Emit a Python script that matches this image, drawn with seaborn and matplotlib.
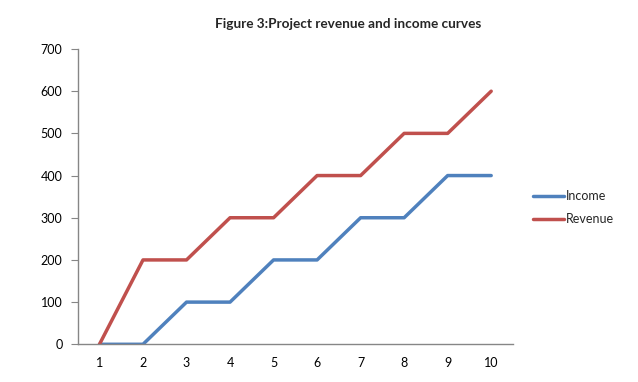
import matplotlib
matplotlib.use("Agg")
import matplotlib.pyplot as plt
import seaborn as sns
import pandas as pd
import numpy as np

categories = [1, 2, 3, 4, 5, 6, 7, 8, 9, 10]
income = [0, 0, 100, 100, 200, 200, 300, 300, 400, 400]
revenue = [0, 200, 200, 300, 300, 400, 400, 500, 500, 600]
y_ticks = [0, 100, 200, 300, 400, 500, 600, 700]
title = "Figure 3:Project revenue and income curves"

sns.set_style("white")
plt.rcParams['font.family'] = ['Lato', 'DejaVu Sans']

df = pd.DataFrame({
    "x": categories * 2,
    "value": income + revenue,
    "series": ["Income"] * len(income) + ["Revenue"] * len(revenue),
})

fig = plt.figure(figsize=(6.38, 3.82), dpi=100)
ax = fig.add_axes([0.1218, 0.0987, 0.804 - 0.1218, 0.8717 - 0.0987])
sns.lineplot(data=df, x="x", y="value", hue="series",
             palette={"Income": "#4F81BD", "Revenue": "#C0504D"},
             linewidth=2.5, ax=ax, legend=True)

ax.set_xlim(0.5, 10.5)
ax.set_ylim(0, 700)
ax.set_xticks(categories)
ax.set_xticklabels([str(c) for c in categories])
ax.set_xticks(np.arange(0.5, 11, 1.0), minor=True)
ax.set_yticks(y_ticks)
ax.set_yticklabels([str(v) for v in y_ticks])
ax.set_xlabel("")
ax.set_ylabel("")

for s in ["top", "right"]:
    ax.spines[s].set_visible(False)
for s in ["left", "bottom"]:
    ax.spines[s].set_color("#868686")
    ax.spines[s].set_linewidth(1.0)

ax.tick_params(axis="x", which="major", length=0, pad=9, labelsize=9, colors="#000000")
ax.tick_params(axis="x", which="minor", length=5, color="#868686", direction="out")
ax.tick_params(axis="y", which="major", length=5, color="#868686", direction="out",
               labelsize=9, pad=6, left=True)
for lbl in ax.get_xticklabels() + ax.get_yticklabels():
    lbl.set_color("#000000")

leg = ax.legend(loc="center left", bbox_to_anchor=(1.02, 0.463), frameon=False,
                fontsize=9, handlelength=2.5, handletextpad=0.1,
                labelspacing=0.9, title=None)

fig.text(0.545, 0.937, title, ha="center", va="center",
         fontsize=9.8, fontweight="bold")

fig.savefig("out.png", dpi=100, facecolor="white")
